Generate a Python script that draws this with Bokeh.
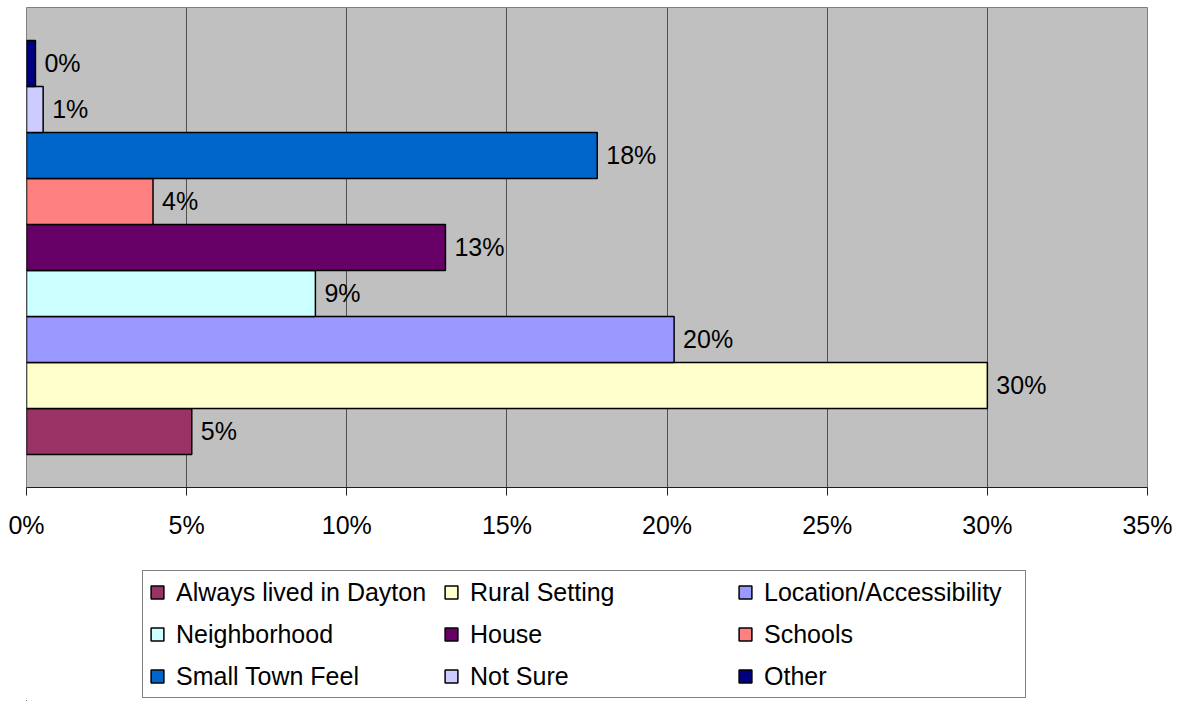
from bokeh.plotting import figure
from bokeh.layouts import column
from bokeh.models import (ColumnDataSource, Range1d, FixedTicker, NumeralTickFormatter,
                          Legend, LegendItem)
from bokeh.core.properties import value
from bokeh.embed import file_html
from bokeh.resources import INLINE

# Data (bottom to top as drawn)
reasons = ["Always lived in Dayton", "Rural Setting", "Location/Accessibility",
           "Neighborhood", "House", "Schools", "Small Town Feel", "Not Sure", "Other"]
shares = [0.0516, 0.300, 0.2022, 0.0902, 0.1308, 0.0395, 0.1782, 0.0052, 0.0028]
colors = ["#993366", "#FFFFCC", "#9999FF", "#CCFFFF", "#660066", "#FF8080",
          "#0066CC", "#CCCCFF", "#000080"]
x_ticks = [0, 0.05, 0.10, 0.15, 0.20, 0.25, 0.30, 0.35]

FONT = "Liberation Sans"

src = ColumnDataSource(dict(
    name=reasons,
    val=shares,
    pos=list(range(len(reasons))),
    color=colors,
    label=[f"{round(v * 100)}%" for v in shares],
))

p = figure(width=1181, height=560, output_backend="svg", toolbar_location=None,
           x_range=Range1d(0, 0.35), y_range=Range1d(-1.219, 9.217),
           min_border_left=26, min_border_right=34, min_border_top=7,
           min_border_bottom=73)

p.background_fill_color = "#C0C0C0"
p.border_fill_color = "white"
p.outline_line_color = "#808080"
p.outline_line_width = 1

bars = p.hbar(y="pos", left=0, right="val", height=1.0, source=src,
              fill_color="color", line_color="black", line_width=1.5)

p.text(x="val", y="pos", text="label", source=src, x_offset=9,
       text_baseline="middle", text_align="left",
       text_font=value(FONT), text_font_size="25px", text_color="black")

# axes
p.yaxis.visible = False
p.ygrid.visible = False
xa = p.xaxis[0]
xa.ticker = FixedTicker(ticks=x_ticks)
xa.formatter = NumeralTickFormatter(format="0%")
xa.major_label_text_font = FONT
xa.major_label_text_font_size = "25px"
xa.major_label_text_color = "black"
xa.major_label_standoff = 15
xa.major_tick_out = 8
xa.major_tick_in = 0
xa.minor_tick_out = 0
xa.minor_tick_in = 0
xa.axis_line_color = "#202020"
xa.major_tick_line_color = "#202020"
p.xgrid.ticker = FixedTicker(ticks=x_ticks)
p.xgrid.grid_line_color = "#505050"
p.xgrid.grid_line_width = 1

# Legend panel (separate figure underneath, same data source)
leg = figure(width=1181, height=141, output_backend="svg", toolbar_location=None,
             x_axis_type=None, y_axis_type=None,
             x_range=Range1d(100, 101), y_range=Range1d(100, 101),
             min_border=0, min_border_left=0, min_border_right=0,
             min_border_top=0, min_border_bottom=0)
leg.outline_line_color = None
leg.background_fill_color = "white"
leg.grid.visible = False
leg_bars = leg.hbar(y="pos", left=0, right="val", height=1.0, source=src,
                    fill_color="color", line_color="black", line_width=1.5)

items = [LegendItem(label=n, renderers=[leg_bars], index=i) for i, n in enumerate(reasons)]
legend = Legend(items=items, orientation="horizontal", ncols=3,
                location=(116, 3),
                label_text_font=FONT, label_text_font_size="25px",
                label_text_color="black",
                glyph_width=16, glyph_height=16, label_standoff=11,
                label_width=255, label_height=30, spacing=12, padding=6,
                margin=0,
                border_line_color="#808080", border_line_width=1,
                border_line_alpha=1,
                background_fill_color="white", background_fill_alpha=1)
leg.add_layout(legend, "center")

layout = column(p, leg, spacing=0)

open("out.html", "w").write(file_html(layout, INLINE))
